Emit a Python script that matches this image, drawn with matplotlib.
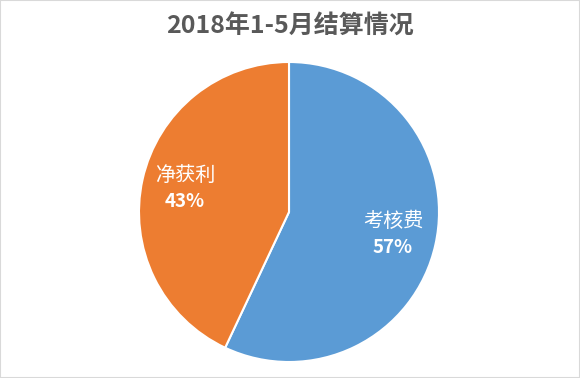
import matplotlib.pyplot as plt
import numpy as np
from matplotlib.patches import Rectangle

plt.rcParams['font.family'] = ['Noto Sans CJK SC', 'DejaVu Sans']

# ── Data ──────────────────────────────────────────────────────────────────────
labels = ["考核费", "净获利"]
values = [57, 43]
colors = ["#5B9BD5", "#ED7D31"]
title = "2018年1-5月结算情况"

W, H = 580, 378
fig = plt.figure(figsize=(W / 100, H / 100), dpi=100)
fig.patch.set_facecolor("white")

# pie axes: center (289, 212), radius 150 px
cx, cy, r = 289, 212, 150
ax = fig.add_axes([(cx - r) / W, (H - cy - r) / H, 2 * r / W, 2 * r / H])
wedges, _ = ax.pie(
    values, colors=colors, startangle=90, counterclock=False,
    wedgeprops=dict(edgecolor="white", linewidth=1.5),
)
ax.set_xlim(-1, 1)
ax.set_ylim(-1, 1)
ax.set_aspect("equal")
ax.axis("off")

# labels inside the wedges
for w, name, v in zip(wedges, labels, values):
    ang = np.deg2rad((w.theta1 + w.theta2) / 2)
    x, y = 0.71 * np.cos(ang), 0.71 * np.sin(ang)
    ax.text(x, y + 0.02, name, ha="center", va="bottom", color="white", fontsize=14.5)
    ax.text(x, y - 0.02, f"{v}%", ha="center", va="top", color="white",
            fontsize=13.5, fontweight="bold")

fig.text(0.5, 1 - 27 / H, title, ha="center", va="center", fontsize=18,
         fontweight="bold", color="#595959")

# thin light border
fig.patches.append(Rectangle((0, 0), 1, 1, transform=fig.transFigure, fill=False,
                             edgecolor="#D9D9D9", linewidth=1.5))

fig.savefig("out.png", dpi=100)
